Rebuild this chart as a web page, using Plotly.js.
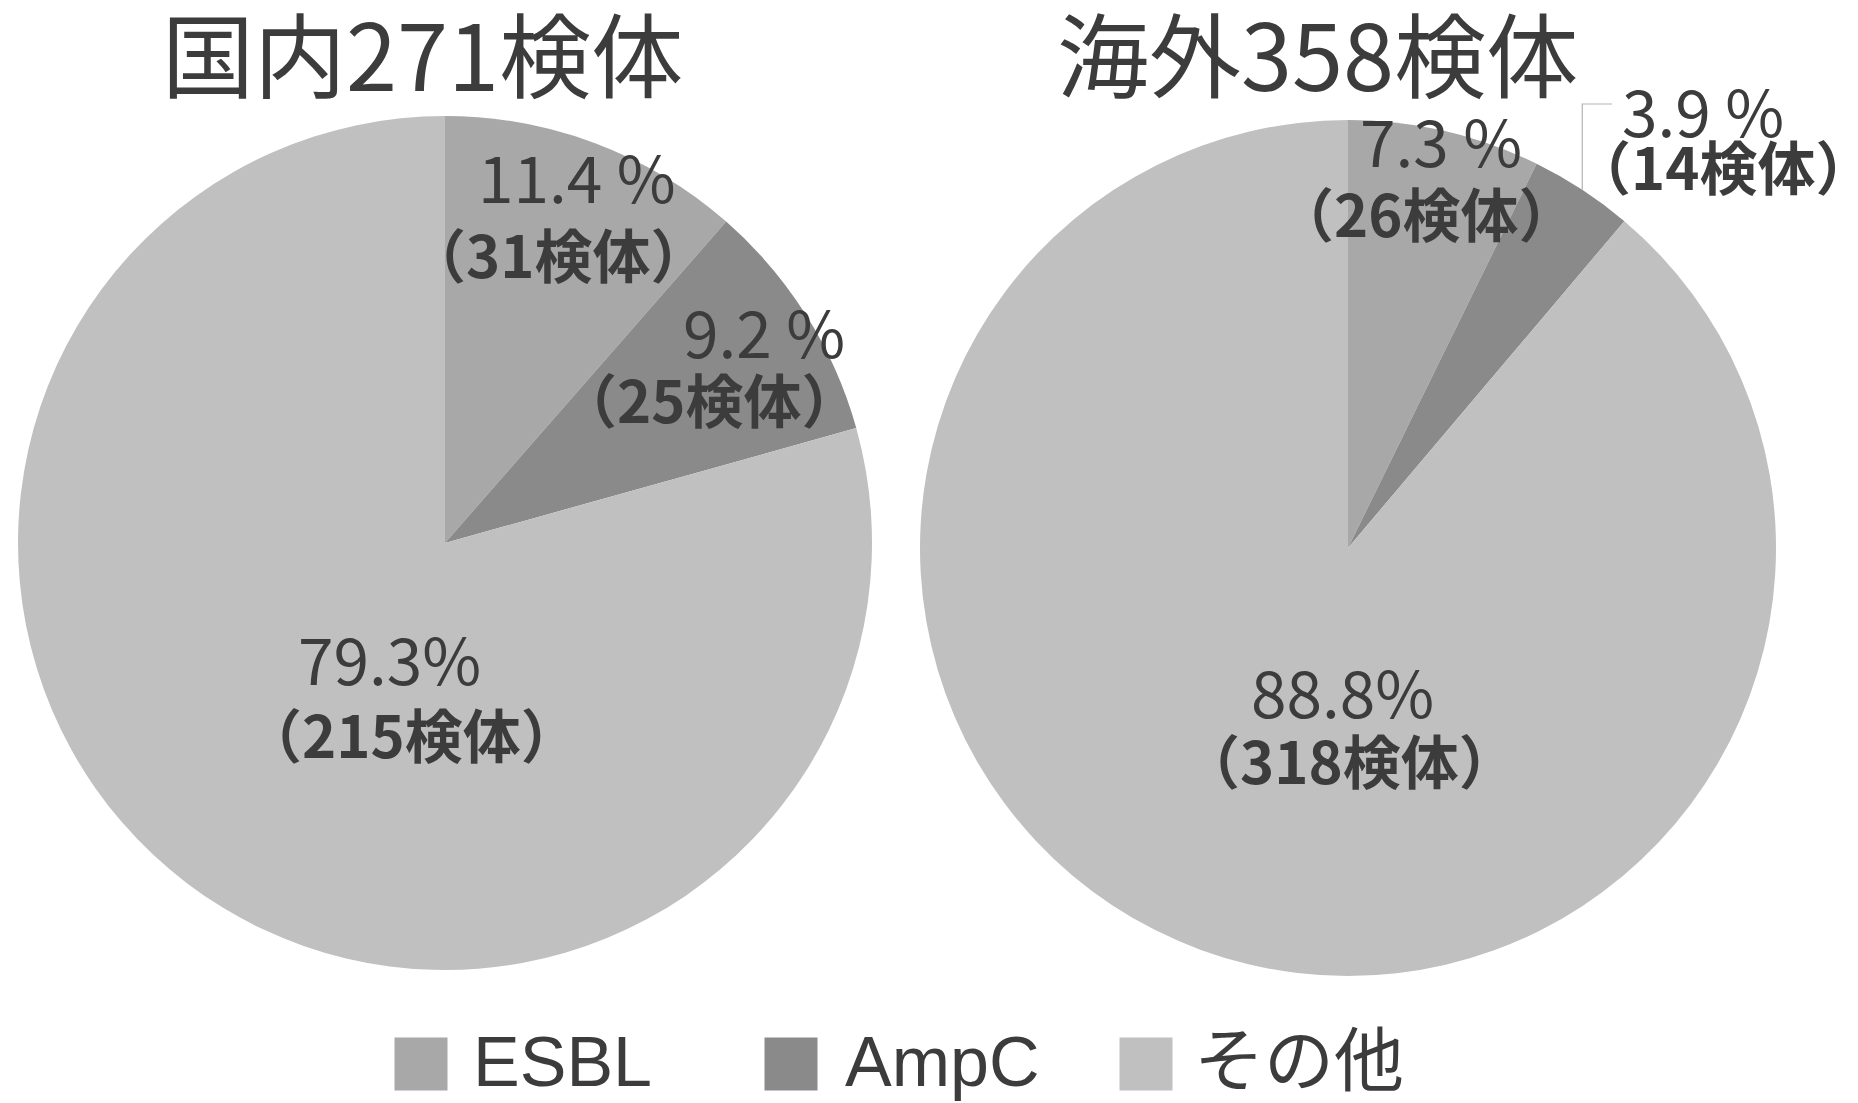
<!DOCTYPE html>
<html>
<head>
<meta charset="utf-8">
<script src="https://cdn.plot.ly/plotly-3.0.1.min.js"></script>
<style>html,body{margin:0;padding:0;background:#fff;}</style>
</head>
<body>
<div id="chart" style="width:1858px;height:1103px;"></div>
<script>
// ---- data ----
const categories = ['ESBL', 'AmpC', 'その他'];
const domesticCounts = [31, 25, 215];
const overseasCounts = [26, 14, 318];
const groupNames = ['国内', '海外'];
const countUnit = '検体';
const pctSeparators = [' ', ' ', ''];

// ---- styling / layout ----
const sliceColors = ['#a8a8a8', '#8a8a8a', '#c0c0c0'];
const textColor = '#3c3c3c';
const W = 1858, H = 1103;
const px = x => x / W;
const py = y => 1 - y / H;

// pixel boxes for each pie (square, so the radius is half the side)
const pieBoxes = [
  {x0: 18, x1: 872, y0: 116, y1: 970},
  {x0: 920, x1: 1776, y0: 120, y1: 976}
];
// label centres in pixels: [percent line, count line] per pie, per category
const labelPos = [
  [[[577, 175], [558, 253]], [[764, 330], [709, 398]], [[389, 657], [411, 733]]],
  [[[1441, 139], [1426, 212]], [[1703, 109], [1723, 165]], [[1342, 690], [1349, 759]]]
];
const titlePos = [[422, 50], [1317, 50]];

const groups = [domesticCounts, overseasCounts];
const jpFont = '"Noto Sans CJK JP", "Noto Sans", sans-serif';

const traces = groups.map((vals, i) => {
  const b = pieBoxes[i];
  return {
    type: 'pie',
    labels: categories,
    values: vals,
    sort: false,
    direction: 'clockwise',
    rotation: 0,
    textinfo: 'none',
    hoverinfo: 'skip',
    showlegend: false,
    marker: {colors: sliceColors, line: {width: 0}},
    domain: {x: [px(b.x0), px(b.x1)], y: [py(b.y1), py(b.y0)]}
  };
});

const annotations = [];
const shapes = [];

groups.forEach((vals, i) => {
  const total = vals.reduce((a, b) => a + b, 0);
  // title above each pie
  annotations.push({
    xref: 'paper', yref: 'paper', x: px(titlePos[i][0]), y: py(titlePos[i][1]),
    xanchor: 'center', yanchor: 'middle', showarrow: false, borderpad: 0,
    text: groupNames[i] + total + countUnit,
    font: {family: jpFont, size: 92, color: textColor}
  });
  vals.forEach((v, k) => {
    const pct = (v / total * 100).toFixed(1);
    const [p1, p2] = labelPos[i][k];
    annotations.push({
      xref: 'paper', yref: 'paper', x: px(p1[0]), y: py(p1[1]),
      xanchor: 'center', yanchor: 'middle', showarrow: false, borderpad: 0,
      text: pct + pctSeparators[k] + '%',
      font: {family: jpFont, size: 64, color: textColor}
    });
    annotations.push({
      xref: 'paper', yref: 'paper', x: px(p2[0]), y: py(p2[1]),
      xanchor: 'center', yanchor: 'middle', showarrow: false, borderpad: 0,
      text: '<b>（' + v + countUnit + '）</b>',
      font: {family: jpFont, size: 58, color: textColor}
    });
  });
});

// leader line for the small AmpC slice of the overseas pie
(function () {
  const vals = overseasCounts, total = vals.reduce((a, b) => a + b, 0);
  const k = 1;
  const before = vals.slice(0, k).reduce((a, b) => a + b, 0);
  const ang = (before + vals[k] / 2) / total * 2 * Math.PI;
  const b = pieBoxes[1];
  const cx = (b.x0 + b.x1) / 2, cy = (b.y0 + b.y1) / 2, r = (b.x1 - b.x0) / 2;
  const ex = cx + r * Math.sin(ang), ey = cy - r * Math.cos(ang);
  const topY = 104, endX = 1612;
  shapes.push({
    type: 'path', xref: 'paper', yref: 'paper',
    path: `M ${px(ex)} ${py(ey)} L ${px(ex)} ${py(topY)} L ${px(endX)} ${py(topY)}`,
    line: {color: '#b4b4b4', width: 1.2}
  });
})();

// legend: swatch + label for each category
const legendSwatchX = [421, 791, 1146];
const legendTextX = [472, 844, 1193];
const legendY = 1064, sw = 53;
categories.forEach((c, k) => {
  shapes.push({
    type: 'rect', xref: 'paper', yref: 'paper',
    x0: px(legendSwatchX[k] - sw / 2), x1: px(legendSwatchX[k] + sw / 2),
    y0: py(legendY + sw / 2), y1: py(legendY - sw / 2),
    fillcolor: sliceColors[k], line: {width: 0}
  });
  annotations.push({
    xref: 'paper', yref: 'paper', x: px(legendTextX[k]), y: py(legendY - 2),
    xanchor: 'left', yanchor: 'middle', showarrow: false, borderpad: 0,
    text: c,
    font: {family: '"Liberation Sans", "Noto Sans CJK JP", sans-serif', size: 70, color: textColor}
  });
});

const layout = {
  width: W, height: H,
  margin: {l: 0, r: 0, t: 0, b: 0},
  paper_bgcolor: '#ffffff',
  showlegend: false,
  annotations: annotations,
  shapes: shapes
};

Plotly.newPlot('chart', traces, layout, {staticPlot: true, displayModeBar: false});
</script>
</body>
</html>
